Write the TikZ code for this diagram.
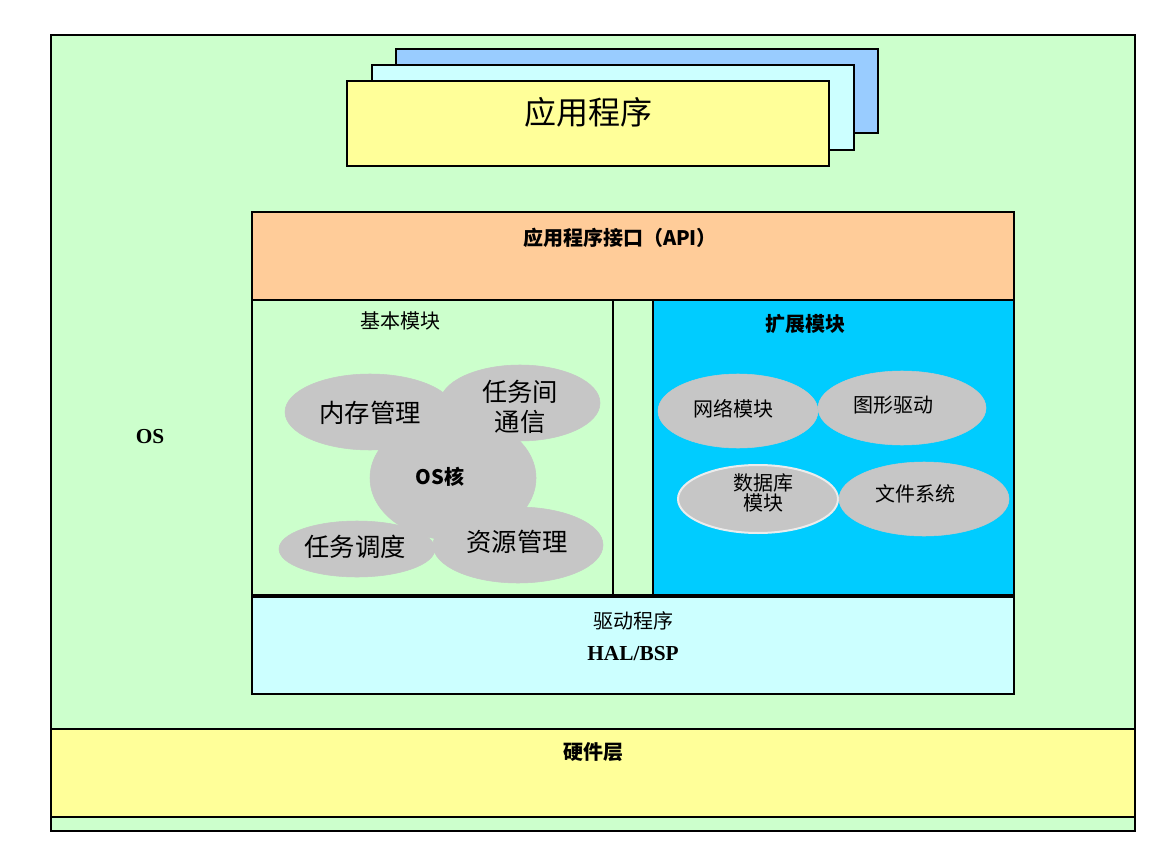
\documentclass[tikz,border=0pt]{standalone}
\usepackage{fontspec}
\setmainfont{Liberation Serif}
\newfontfamily\cjk{Noto Sans CJK SC}
\begin{document}
\begin{tikzpicture}[x=0.75pt,y=-0.75pt,
  box/.style={draw=black,line width=1pt},
  ell/.style={fill=gray!45,draw=gray!45},
  lbl/.style={font=\cjk\fontsize{15}{17}\selectfont},
  blbl/.style={font=\cjk\bfseries\fontsize{15}{17}\selectfont}]
\useasboundingbox (0,0) rectangle (1162,855);
\fill[white] (0,0) rectangle (1162,855);
\draw[box,fill={rgb,255:red,204;green,255;blue,204}] (51,35) rectangle (1135,831);
\draw[box,fill={rgb,255:red,255;green,255;blue,153}] (51,729) rectangle (1135,817);
\node[blbl] (hw) at (593,752) {硬件层};
\node[font=\bfseries\fontsize{16}{18}\selectfont] (os) at (150,437) {OS};
% app stack
\draw[box,fill={rgb,255:red,153;green,204;blue,255}] (396,49) rectangle (878,133);
\draw[box,fill={rgb,255:red,204;green,255;blue,255}] (372,65) rectangle (854,150);
\draw[box,fill={rgb,255:red,255;green,255;blue,153}] (347,81) rectangle (829,166);
\node[font=\cjk\fontsize{24}{28}\selectfont] (app) at (588,112) {应用程序};
% API
\draw[box,fill={rgb,255:red,255;green,204;blue,153}] (252,212) rectangle (1014,300);
\node[blbl] (api) at (620,238) {应用程序接口（\textbf{API}）};
\draw[box,fill={rgb,255:red,204;green,255;blue,204}] (252,300) rectangle (613,595);
\draw[box,fill={rgb,255:red,204;green,255;blue,204}] (613,300) rectangle (653,595);
\draw[box,fill={rgb,255:red,0;green,204;blue,255}] (653,300) rectangle (1014,595);
\node[lbl] (basic) at (400,321) {基本模块};
\node[blbl] (ext) at (805,324) {扩展模块};
\draw[box,fill={rgb,255:red,204;green,255;blue,255}] (252,597) rectangle (1014,694);
\node[lbl] (drv) at (633,621) {驱动程序};
\node[font=\bfseries\fontsize{16}{18}\selectfont] (hal) at (633,654) {HAL/BSP};
% left ellipses
\fill[ell] (453,478) ellipse (83 and 62);
\fill[ell] (370,412) ellipse (85 and 38);
\fill[ell] (520,403) ellipse (80 and 38);
\fill[ell] (357,549) ellipse (78 and 28);
\fill[ell] (518,545) ellipse (85 and 38);
\node[font=\bfseries\cjk\fontsize{15}{17}\selectfont] (kern) at (440,477) {\textbf{OS}核};
\node[font=\cjk\fontsize{19}{22}\selectfont] (mem) at (370,413) {内存管理};
\node[font=\cjk\fontsize{19}{22}\selectfont,align=center] (ipc) at (520,407) {任务间\\通信};
\node[font=\cjk\fontsize{19}{22}\selectfont] (sch) at (355,547) {任务调度};
\node[font=\cjk\fontsize{19}{22}\selectfont] (res) at (517,542) {资源管理};
% right ellipses
\fill[ell] (738,411) ellipse (80 and 37);
\fill[ell] (902,408) ellipse (84 and 37);
\draw[ell,draw=gray!15,line width=1.5pt] (758,499) ellipse (80 and 34);
\fill[ell] (924,499) ellipse (85 and 37);
\node[lbl] (net) at (733,409) {网络模块};
\node[lbl] (gfx) at (893,405) {图形驱动};
\node[lbl,align=center,font=\cjk\fontsize{15}{15}\selectfont] (db) at (763,493) {数据库\\模块};
\node[lbl] (fs) at (915,494) {文件系统};
\end{tikzpicture}
\end{document}
